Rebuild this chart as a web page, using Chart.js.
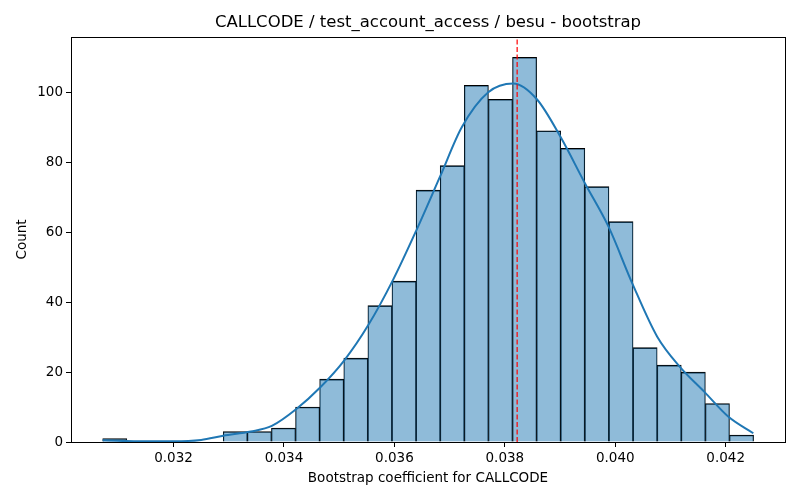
<!DOCTYPE html>
<html>
<head>
<meta charset="utf-8">
<script src="https://cdn.jsdelivr.net/npm/chart.js@4/dist/chart.umd.min.js"></script>
<style>
  body { margin: 0; background: #fff; }
</style>
</head>
<body>
<canvas id="myChart" width="800" height="500"></canvas>
<script>
// histogram bins (left edges + final right edge) and counts
const binEdges = [0.030717, 0.031154, 0.031590, 0.032027, 0.032463, 0.032900, 0.033337,
    0.033773, 0.034210, 0.034646, 0.035083, 0.035520, 0.035956, 0.036393, 0.036829,
    0.037266, 0.037703, 0.038139, 0.038576, 0.039012, 0.039449, 0.039886, 0.040322,
    0.040759, 0.041195, 0.041632, 0.042069, 0.042505];
const counts = [1, 0, 0, 0, 0, 3, 3, 4, 10, 18, 24, 39, 46, 72, 79,
    102, 98, 110, 89, 84, 73, 63, 27, 22, 20, 11, 2];

// kde curve
const kdeX = [0.030716, 0.0315, 0.032, 0.0325, 0.0329, 0.0334, 0.03378, 0.03423, 0.03465,
    0.0351, 0.03553, 0.03598, 0.0364, 0.03683, 0.03722, 0.0377, 0.03815, 0.03858,
    0.03901, 0.03945, 0.03988, 0.04031, 0.04076, 0.04117, 0.04161, 0.04205, 0.0425];
const kdeY = [0.5, 0.2, 0.2, 0.6, 1.8, 3.0, 4.6, 9.5, 15.5, 23.5, 33.5, 46.5, 60.6,
    76, 90, 100, 102.5, 98, 87.2, 74, 61.5, 45.3, 30.1, 21.5, 14.4, 7.2, 2.5];

const meanValue = 0.038223;
const xTicks = [0.032, 0.034, 0.036, 0.038, 0.040, 0.042];
const yTicks = [0, 20, 40, 60, 80, 100];
const titleText = 'CALLCODE / test_account_access / besu - bootstrap';
const xLabel = 'Bootstrap coefficient for CALLCODE';
const yLabel = 'Count';

const FONT = 'DejaVu Sans';

let barData = [];
for (let i = 0; i < counts.length; i++) {
    barData.push({ x: (binEdges[i] + binEdges[i + 1]) / 2, y: counts[i] });
}
let kdeData = kdeX.map((x, i) => ({ x: x, y: kdeY[i] }));

const framePlugin = {
    id: 'frame',
    afterDraw(chart) {
        const ctx = chart.ctx;
        const a = chart.chartArea;
        ctx.save();
        ctx.strokeStyle = '#000';
        ctx.lineWidth = 1;
        ctx.strokeRect(Math.round(a.left) + 0.5, Math.round(a.top) + 0.5,
            Math.round(a.right - a.left), Math.round(a.bottom - a.top));
        ctx.fillStyle = '#000';
        ctx.textAlign = 'center';
        ctx.textBaseline = 'middle';
        ctx.font = '16.5px "' + FONT + '"';
        ctx.fillText(titleText, (a.left + a.right) / 2, 23);
        ctx.font = '13.5px "' + FONT + '"';
        ctx.fillText(xLabel, (a.left + a.right) / 2, 478);
        ctx.translate(22, (a.top + a.bottom) / 2);
        ctx.rotate(-Math.PI / 2);
        ctx.fillText(yLabel, 0, 0);
        ctx.restore();
    }
};

const ctx = document.getElementById('myChart').getContext('2d');
new Chart(ctx, {
    data: {
        datasets: [
            {
                type: 'line',
                data: [{ x: meanValue, y: 0 }, { x: meanValue, y: 115.8 }],
                borderColor: '#ff0000',
                borderWidth: 1.2,
                borderDash: [5, 2.5],
                pointRadius: 0,
                order: 0
            },
            {
                type: 'line',
                data: kdeData,
                borderColor: '#1f77b4',
                borderWidth: 2,
                pointRadius: 0,
                cubicInterpolationMode: 'monotone',
                order: 1
            },
            {
                type: 'bar',
                data: barData,
                backgroundColor: 'rgba(31,119,180,0.5)',
                borderColor: '#000',
                borderWidth: { top: 1, left: 0.6, right: 0.6, bottom: 0 },
                borderSkipped: false,
                barPercentage: 1,
                categoryPercentage: 1,
                grouped: false,
                order: 2
            }
        ]
    },
    options: {
        responsive: false,
        devicePixelRatio: 1,
        animation: false,
        layout: { padding: { top: 37, right: 15, left: 0, bottom: 0 } },
        plugins: {
            legend: { display: false },
            tooltip: { enabled: false },
            title: { display: false }
        },
        scales: {
            x: {
                type: 'linear',
                min: 0.030143,
                max: 0.043074,
                offset: false,
                afterBuildTicks: (scale) => { scale.ticks = xTicks.map(v => ({ value: v })); },
                afterFit: (scale) => { scale.height = 58; },
                grid: { display: true, offset: false, drawOnChartArea: false, drawTicks: true, tickLength: 5, color: '#000' },
                border: { display: false },
                ticks: {
                    color: '#000',
                    font: { family: FONT, size: 13.5 },
                    padding: 3,
                    maxRotation: 0,
                    callback: (v) => Number(v).toFixed(3)
                }
            },
            y: {
                type: 'linear',
                min: 0,
                max: 115.8,
                afterBuildTicks: (scale) => { scale.ticks = yTicks.map(v => ({ value: v })); },
                afterFit: (scale) => { scale.width = 71; },
                grid: { display: true, drawOnChartArea: false, drawTicks: true, tickLength: 5, color: '#000' },
                border: { display: false },
                ticks: {
                    color: '#000',
                    font: { family: FONT, size: 13.5 },
                    padding: 3
                }
            }
        }
    },
    plugins: [framePlugin]
});
</script>
</body>
</html>
